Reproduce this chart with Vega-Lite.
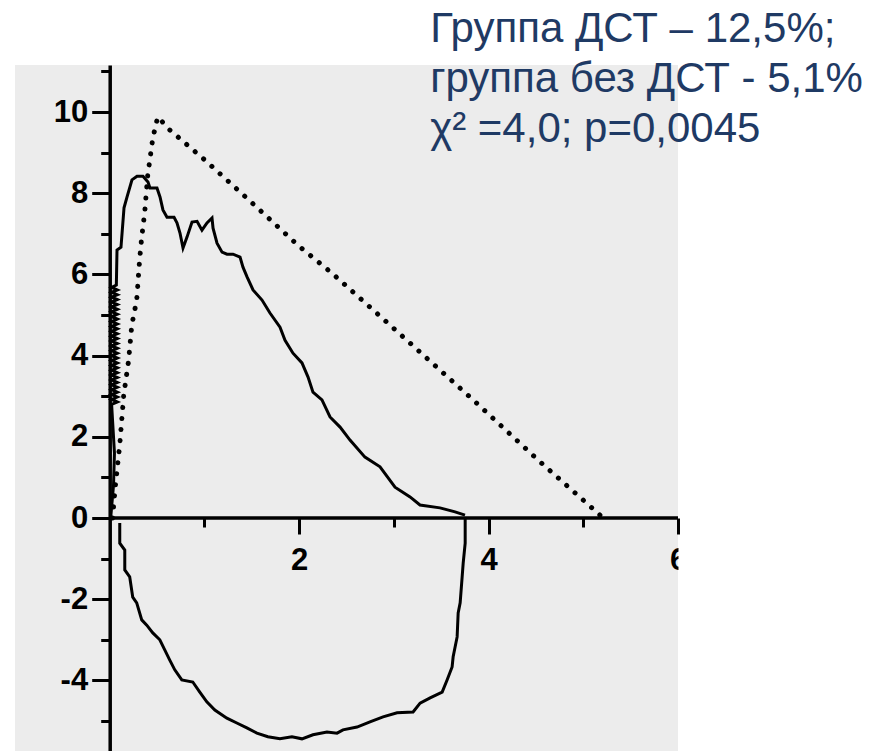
{
  "$schema": "https://vega.github.io/schema/vega-lite/v6.json",
  "width": 663,
  "height": 686,
  "autosize": {"type": "none"},
  "padding": {"left": 15, "top": 65, "right": 206, "bottom": 0},
  "background": "white",
  "config": {"view": {"fill": "#ececec", "stroke": null}},
  "data": {"values": [{}]},
  "datasets": {
    "exp": [
      {"i":0,"x":0.01,"y":0},{"i":1,"x":0.04,"y":0.8},{"i":2,"x":0.05,"y":1.6},{"i":3,"x":0.03,"y":2.4},
      {"i":4,"x":0.02,"y":2.8},{"i":5,"x":0.08,"y":2.86},{"i":6,"x":0.02,"y":2.92},{"i":7,"x":0.08,"y":2.98},
      {"i":8,"x":0.02,"y":3.04},{"i":9,"x":0.08,"y":3.1},{"i":10,"x":0.02,"y":3.16},{"i":11,"x":0.08,"y":3.22},
      {"i":12,"x":0.02,"y":3.28},{"i":13,"x":0.08,"y":3.34},{"i":14,"x":0.02,"y":3.4},{"i":15,"x":0.08,"y":3.46},
      {"i":16,"x":0.02,"y":3.52},{"i":17,"x":0.08,"y":3.58},{"i":18,"x":0.02,"y":3.64},{"i":19,"x":0.08,"y":3.7},
      {"i":20,"x":0.02,"y":3.76},{"i":21,"x":0.08,"y":3.82},{"i":22,"x":0.02,"y":3.88},{"i":23,"x":0.08,"y":3.94},
      {"i":24,"x":0.02,"y":4.0},{"i":25,"x":0.08,"y":4.06},{"i":26,"x":0.02,"y":4.12},{"i":27,"x":0.08,"y":4.18},
      {"i":28,"x":0.02,"y":4.24},{"i":29,"x":0.08,"y":4.3},{"i":30,"x":0.02,"y":4.36},{"i":31,"x":0.08,"y":4.42},
      {"i":32,"x":0.02,"y":4.48},{"i":33,"x":0.08,"y":4.54},{"i":34,"x":0.02,"y":4.6},{"i":35,"x":0.08,"y":4.66},
      {"i":36,"x":0.02,"y":4.72},{"i":37,"x":0.08,"y":4.78},{"i":38,"x":0.02,"y":4.84},{"i":39,"x":0.08,"y":4.9},
      {"i":40,"x":0.02,"y":4.96},{"i":41,"x":0.08,"y":5.02},{"i":42,"x":0.02,"y":5.08},{"i":43,"x":0.08,"y":5.14},
      {"i":44,"x":0.02,"y":5.2},{"i":45,"x":0.08,"y":5.26},{"i":46,"x":0.02,"y":5.32},{"i":47,"x":0.08,"y":5.38},
      {"i":48,"x":0.02,"y":5.44},{"i":49,"x":0.08,"y":5.5},{"i":50,"x":0.02,"y":5.56},{"i":51,"x":0.08,"y":5.62},
      {"i":52,"x":0.02,"y":5.68},{"i":53,"x":0.07,"y":5.74},
      {"i":54,"x":0.077,"y":6.6},{"i":55,"x":0.119,"y":6.67},{"i":56,"x":0.151,"y":7.64},{"i":57,"x":0.183,"y":7.91},
      {"i":58,"x":0.235,"y":8.33},{"i":59,"x":0.288,"y":8.42},{"i":60,"x":0.351,"y":8.42},{"i":61,"x":0.404,"y":8.28},
      {"i":62,"x":0.425,"y":8.13},{"i":63,"x":0.499,"y":8.13},{"i":64,"x":0.531,"y":7.91},{"i":65,"x":0.562,"y":7.59},
      {"i":66,"x":0.605,"y":7.41},{"i":67,"x":0.679,"y":7.41},{"i":68,"x":0.71,"y":7.27},{"i":69,"x":0.742,"y":7.02},
      {"i":70,"x":0.774,"y":6.65},{"i":71,"x":0.816,"y":6.92},{"i":72,"x":0.869,"y":7.29},{"i":73,"x":0.922,"y":7.31},
      {"i":74,"x":0.974,"y":7.09},{"i":75,"x":1.027,"y":7.27},{"i":76,"x":1.08,"y":7.39},{"i":77,"x":1.091,"y":7.14},
      {"i":78,"x":1.133,"y":6.77},{"i":79,"x":1.186,"y":6.55},{"i":80,"x":1.238,"y":6.5},{"i":81,"x":1.302,"y":6.5},
      {"i":82,"x":1.376,"y":6.43},{"i":83,"x":1.407,"y":6.18},{"i":84,"x":1.45,"y":5.94},{"i":85,"x":1.513,"y":5.62},
      {"i":86,"x":1.608,"y":5.37},{"i":87,"x":1.692,"y":5.05},{"i":88,"x":1.798,"y":4.7},{"i":89,"x":1.851,"y":4.38},
      {"i":90,"x":1.935,"y":4.06},{"i":91,"x":2.03,"y":3.82},{"i":92,"x":2.094,"y":3.47},{"i":93,"x":2.146,"y":3.1},
      {"i":94,"x":2.241,"y":2.91},{"i":95,"x":2.326,"y":2.49},{"i":96,"x":2.432,"y":2.24},{"i":97,"x":2.537,"y":1.92},
      {"i":98,"x":2.695,"y":1.5},{"i":99,"x":2.854,"y":1.26},{"i":100,"x":3.012,"y":0.76},{"i":101,"x":3.171,"y":0.52},
      {"i":102,"x":3.276,"y":0.32},{"i":103,"x":3.487,"y":0.25},{"i":104,"x":3.646,"y":0.15},{"i":105,"x":3.751,"y":0.07}
    ],
    "insp": [
      {"i":0,"x":3.753,"y":0.02},{"i":1,"x":3.753,"y":-0.62},{"i":2,"x":3.732,"y":-1.11},{"i":3,"x":3.721,"y":-1.45},
      {"i":4,"x":3.7,"y":-2.09},{"i":5,"x":3.679,"y":-2.34},{"i":6,"x":3.668,"y":-2.93},{"i":7,"x":3.626,"y":-3.42},
      {"i":8,"x":3.615,"y":-3.67},{"i":9,"x":3.562,"y":-3.99},{"i":10,"x":3.51,"y":-4.29},{"i":11,"x":3.383,"y":-4.43},
      {"i":12,"x":3.277,"y":-4.56},{"i":13,"x":3.203,"y":-4.78},{"i":14,"x":3.034,"y":-4.8},{"i":15,"x":2.886,"y":-4.9},
      {"i":16,"x":2.748,"y":-5.02},{"i":17,"x":2.611,"y":-5.15},{"i":18,"x":2.463,"y":-5.22},{"i":19,"x":2.4,"y":-5.3},
      {"i":20,"x":2.294,"y":-5.27},{"i":21,"x":2.146,"y":-5.34},{"i":22,"x":2.03,"y":-5.44},{"i":23,"x":1.924,"y":-5.39},
      {"i":24,"x":1.797,"y":-5.44},{"i":25,"x":1.67,"y":-5.39},{"i":26,"x":1.554,"y":-5.3},{"i":27,"x":1.448,"y":-5.17},
      {"i":28,"x":1.342,"y":-5.05},{"i":29,"x":1.237,"y":-4.93},{"i":30,"x":1.11,"y":-4.73},{"i":31,"x":1.025,"y":-4.53},
      {"i":32,"x":0.951,"y":-4.29},{"i":33,"x":0.877,"y":-4.04},{"i":34,"x":0.761,"y":-3.99},{"i":35,"x":0.687,"y":-3.74},
      {"i":36,"x":0.634,"y":-3.5},{"i":37,"x":0.581,"y":-3.25},{"i":38,"x":0.529,"y":-3.0},{"i":39,"x":0.455,"y":-2.83},
      {"i":40,"x":0.391,"y":-2.64},{"i":41,"x":0.338,"y":-2.51},{"i":42,"x":0.285,"y":-2.09},{"i":43,"x":0.243,"y":-1.95},
      {"i":44,"x":0.211,"y":-1.45},{"i":45,"x":0.159,"y":-1.28},{"i":46,"x":0.159,"y":-0.79},{"i":47,"x":0.106,"y":-0.62},
      {"i":48,"x":0.106,"y":-0.12}
    ],
    "pred": [
      {"i":0,"x":0.03,"y":0},{"i":1,"x":0.06,"y":0.8},{"i":2,"x":0.106,"y":1.8},{"i":3,"x":0.148,"y":3.03},
      {"i":4,"x":0.2,"y":3.89},{"i":5,"x":0.233,"y":4.75},{"i":6,"x":0.285,"y":5.37},{"i":7,"x":0.317,"y":6.4},
      {"i":8,"x":0.338,"y":6.92},{"i":9,"x":0.37,"y":7.54},{"i":10,"x":0.4,"y":8.42},{"i":11,"x":0.455,"y":9.36},
      {"i":12,"x":0.507,"y":9.88},{"i":13,"x":0.56,"y":9.75},{"i":14,"x":0.634,"y":9.56},{"i":15,"x":1.004,"y":8.82},
      {"i":16,"x":1.448,"y":7.88},{"i":17,"x":1.987,"y":6.72},{"i":18,"x":2.347,"y":6.03},{"i":19,"x":2.875,"y":4.93},
      {"i":20,"x":3.837,"y":2.91},{"i":21,"x":4.545,"y":1.38},{"i":22,"x":5.0,"y":0.44},{"i":23,"x":5.21,"y":0.0}
    ]
  },
  "layer": [
    {
      "data": {"name": "exp"},
      "mark": {"type": "line", "color": "black", "strokeWidth": 3},
      "encoding": {
        "x": {
          "field": "x", "type": "quantitative",
          "scale": {"domain": [-1, 6], "nice": false, "zero": false},
          "axis": {
            "title": null, "orient": "bottom", "offset": -233,
            "values": [1, 2, 3, 4, 5, 6],
            "domain": false, "grid": false,
            "tickColor": "black", "tickWidth": 3,
            "tickSize": {"condition": {"test": "datum.value % 2 === 0", "value": 16}, "value": 9},
            "labelExpr": "datum.value % 2 === 0 ? '' + datum.value : ''",
            "labelFont": "Liberation Sans",
            "labelFontSize": 31, "labelFontWeight": "bold", "labelColor": "black",
            "labelPadding": 11, "labelFlush": false, "labelOverlap": false, "labelBound": false
          }
        },
        "y": {
          "field": "y", "type": "quantitative",
          "scale": {"domain": [-5.74, 11.16], "nice": false, "zero": false},
          "axis": {
            "title": null, "orient": "left", "offset": -94.7,
            "values": [-5, -4, -3, -2, -1, 0, 1, 2, 3, 4, 5, 6, 7, 8, 9, 10, 11],
            "domain": true, "domainColor": "black", "domainWidth": 3.5, "grid": false,
            "tickColor": "black", "tickWidth": 3,
            "tickSize": {"condition": {"test": "datum.value % 2 === 0", "value": 18}, "value": 9},
            "labelExpr": "datum.value % 2 === 0 ? '' + datum.value : ''",
            "labelFont": "Liberation Sans",
            "labelFontSize": 31, "labelFontWeight": "bold", "labelColor": "black",
            "labelPadding": 4, "labelFlush": false, "labelOverlap": false, "labelBound": false
          }
        },
        "order": {"field": "i"}
      }
    },
    {
      "data": {"name": "insp"},
      "mark": {"type": "line", "color": "black", "strokeWidth": 3},
      "encoding": {
        "x": {"field": "x", "type": "quantitative"},
        "y": {"field": "y", "type": "quantitative"},
        "order": {"field": "i"}
      }
    },
    {
      "data": {"name": "pred"},
      "mark": {"type": "line", "color": "black", "strokeWidth": 5, "strokeCap": "round", "strokeDash": [0.1, 11]},
      "encoding": {
        "x": {"field": "x", "type": "quantitative"},
        "y": {"field": "y", "type": "quantitative"},
        "order": {"field": "i"}
      }
    },
    {
      "mark": {"type": "rule", "color": "black", "strokeWidth": 3.5},
      "encoding": {
        "x": {"datum": 0, "type": "quantitative"},
        "x2": {"datum": 6},
        "y": {"datum": 0, "type": "quantitative"}
      }
    },
    {
      "mark": {"type": "rect", "color": "white"},
      "encoding": {
        "x": {"datum": 6.005, "type": "quantitative"},
        "x2": {"datum": 7.5},
        "y": {"datum": -0.45, "type": "quantitative"},
        "y2": {"datum": -1.7}
      }
    },
    {
      "mark": {
        "type": "text", "align": "left", "baseline": "alphabetic",
        "font": "Liberation Sans, Arial, sans-serif", "fontSize": 42, "lineHeight": 50,
        "color": "#1f3a64"
      },
      "encoding": {
        "x": {"datum": 3.383, "type": "quantitative"},
        "y": {"datum": 11.72, "type": "quantitative"},
        "text": {"value": ["Группа ДСТ – 12,5%;", "группа без ДСТ - 5,1%", "χ² =4,0; p=0,0045"]}
      }
    }
  ]
}
